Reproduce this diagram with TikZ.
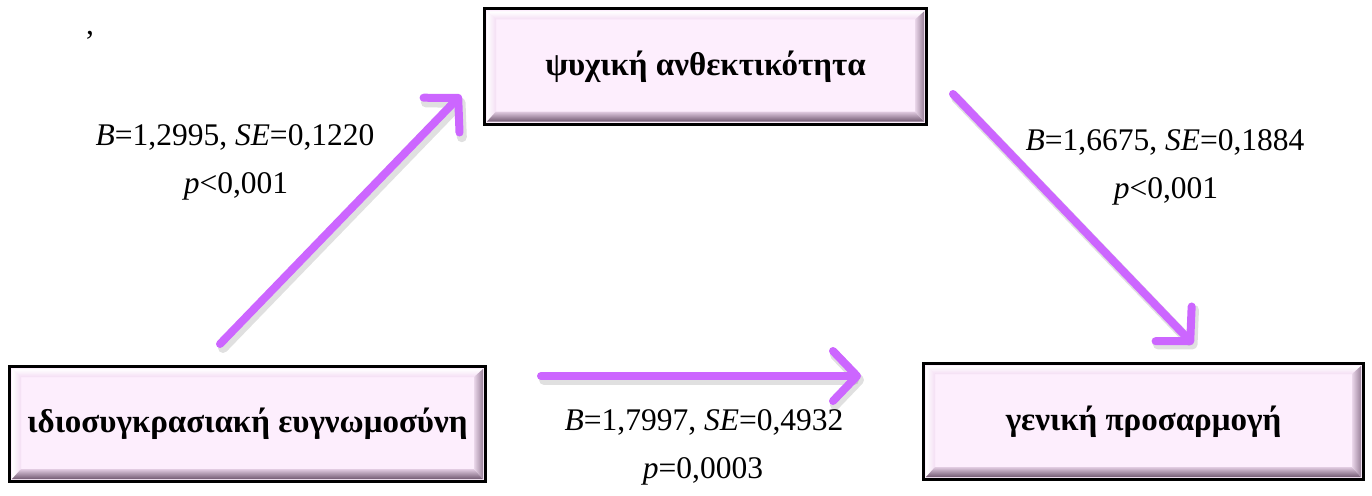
\documentclass[tikz,border=0pt]{standalone}
\usepackage{fontspec}
\setmainfont{Liberation Serif}
\usetikzlibrary{arrows.meta,calc}
\definecolor{boxpink}{HTML}{FDEEFD}
\definecolor{bevtop}{HTML}{F4DEF4}
\definecolor{bevbotin}{HTML}{E2CCE2}
\definecolor{bevbotout}{HTML}{725A72}
\definecolor{bevrin}{HTML}{EAD6EA}
\definecolor{bevrout}{HTML}{9A829A}
\definecolor{arrowpurple}{HTML}{CC66FF}
\newcommand\bevelframe[1]{%
 \coordinate (#1onw) at ($(#1.north west)+(4pt,-4pt)$);
 \coordinate (#1one) at ($(#1.north east)+(-4pt,-4pt)$);
 \coordinate (#1osw) at ($(#1.south west)+(4pt,4pt)$);
 \coordinate (#1ose) at ($(#1.south east)+(-4pt,4pt)$);
 \coordinate (#1inw) at ($(#1.north west)+(13pt,-12pt)$);
 \coordinate (#1ine) at ($(#1.north east)+(-13pt,-12pt)$);
 \coordinate (#1isw) at ($(#1.south west)+(13pt,14pt)$);
 \coordinate (#1ise) at ($(#1.south east)+(-13pt,14pt)$);
 \shade[top color=white, bottom color=bevtop] (#1onw) -- (#1one) -- (#1ine) -- (#1inw) -- cycle;
 \shade[left color=white, right color=bevtop] (#1onw) -- (#1inw) -- (#1isw) -- (#1osw) -- cycle;
 \shade[top color=bevbotin, bottom color=bevbotout] (#1osw) -- (#1ose) -- (#1ise) -- (#1isw) -- cycle;
 \shade[left color=bevrin, right color=bevrout] (#1one) -- (#1ose) -- (#1ise) -- (#1ine) -- cycle;
}
\begin{document}
\begin{tikzpicture}[x=1pt,y=-1pt,
  box/.style={draw=black, line width=3pt, fill=boxpink, inner sep=0pt,
    font=\fontsize{33}{38}\selectfont\bfseries},
  arr/.style={draw=arrowpurple, line width=8pt, line cap=round,
    -{Straight Barb[length=24pt,width=50pt,round]}},
  arrshadow/.style={draw=black, opacity=0.12, line width=10pt, line cap=round,
    -{Straight Barb[length=24pt,width=50pt,round]}},
  lbl/.style={font=\fontsize{31.5}{36}\selectfont, anchor=base, inner sep=0pt}]
\useasboundingbox (0,0) rectangle (1372,495);
% boxes
\node[box, minimum width=442pt, minimum height=115pt] (med) at (705.5,66.5) {ψυχική ανθεκτικότητα};
\bevelframe{med}
\node[box, minimum width=476pt, minimum height=115pt] (iv) at (247.5,424) {ιδιοσυγκρασιακή ευγνωμοσύνη};
\bevelframe{iv}
\node[box, minimum width=440pt, minimum height=116pt] (dv) at (1143.5,421.5) {γενική προσαρμογή};
\bevelframe{dv}
% arrow end points
\coordinate (a1s) at (220,344);
\coordinate (a1e) at (461,95);
\coordinate (a2s) at (541,376);
\coordinate (a2e) at (861,376);
\coordinate (a3s) at (953,94);
\coordinate (a3e) at (1193,344);
% shadows
\begin{scope}[transform canvas={shift={(3pt,-4pt)}}]
\draw[arrshadow] (a1s) -- (a1e);
\draw[arrshadow] (a2s) -- (a2e);
\draw[arrshadow] (a3s) -- (a3e);
\end{scope}
\draw[arr] (a1s) -- (a1e);
\draw[arr] (a2s) -- (a2e);
\draw[arr] (a3s) -- (a3e);
% labels
\node[lbl] (l1a) at (235,145) {\textit{B}=1,2995, \textit{SE}=0,1220};
\node[lbl] (l1b) at (236,193) {\textit{p}<0,001};
\node[lbl] (l3a) at (1165,150) {\textit{B}=1,6675, \textit{SE}=0,1884};
\node[lbl] (l3b) at (1166,198) {\textit{p}<0,001};
\node[lbl] (l2a) at (704,430) {\textit{B}=1,7997, \textit{SE}=0,4932};
\node[lbl] (l2b) at (703,478) {\textit{p}=0,0003};
\node[lbl] (comma) at (90,35) {,};
\end{tikzpicture}
\end{document}
